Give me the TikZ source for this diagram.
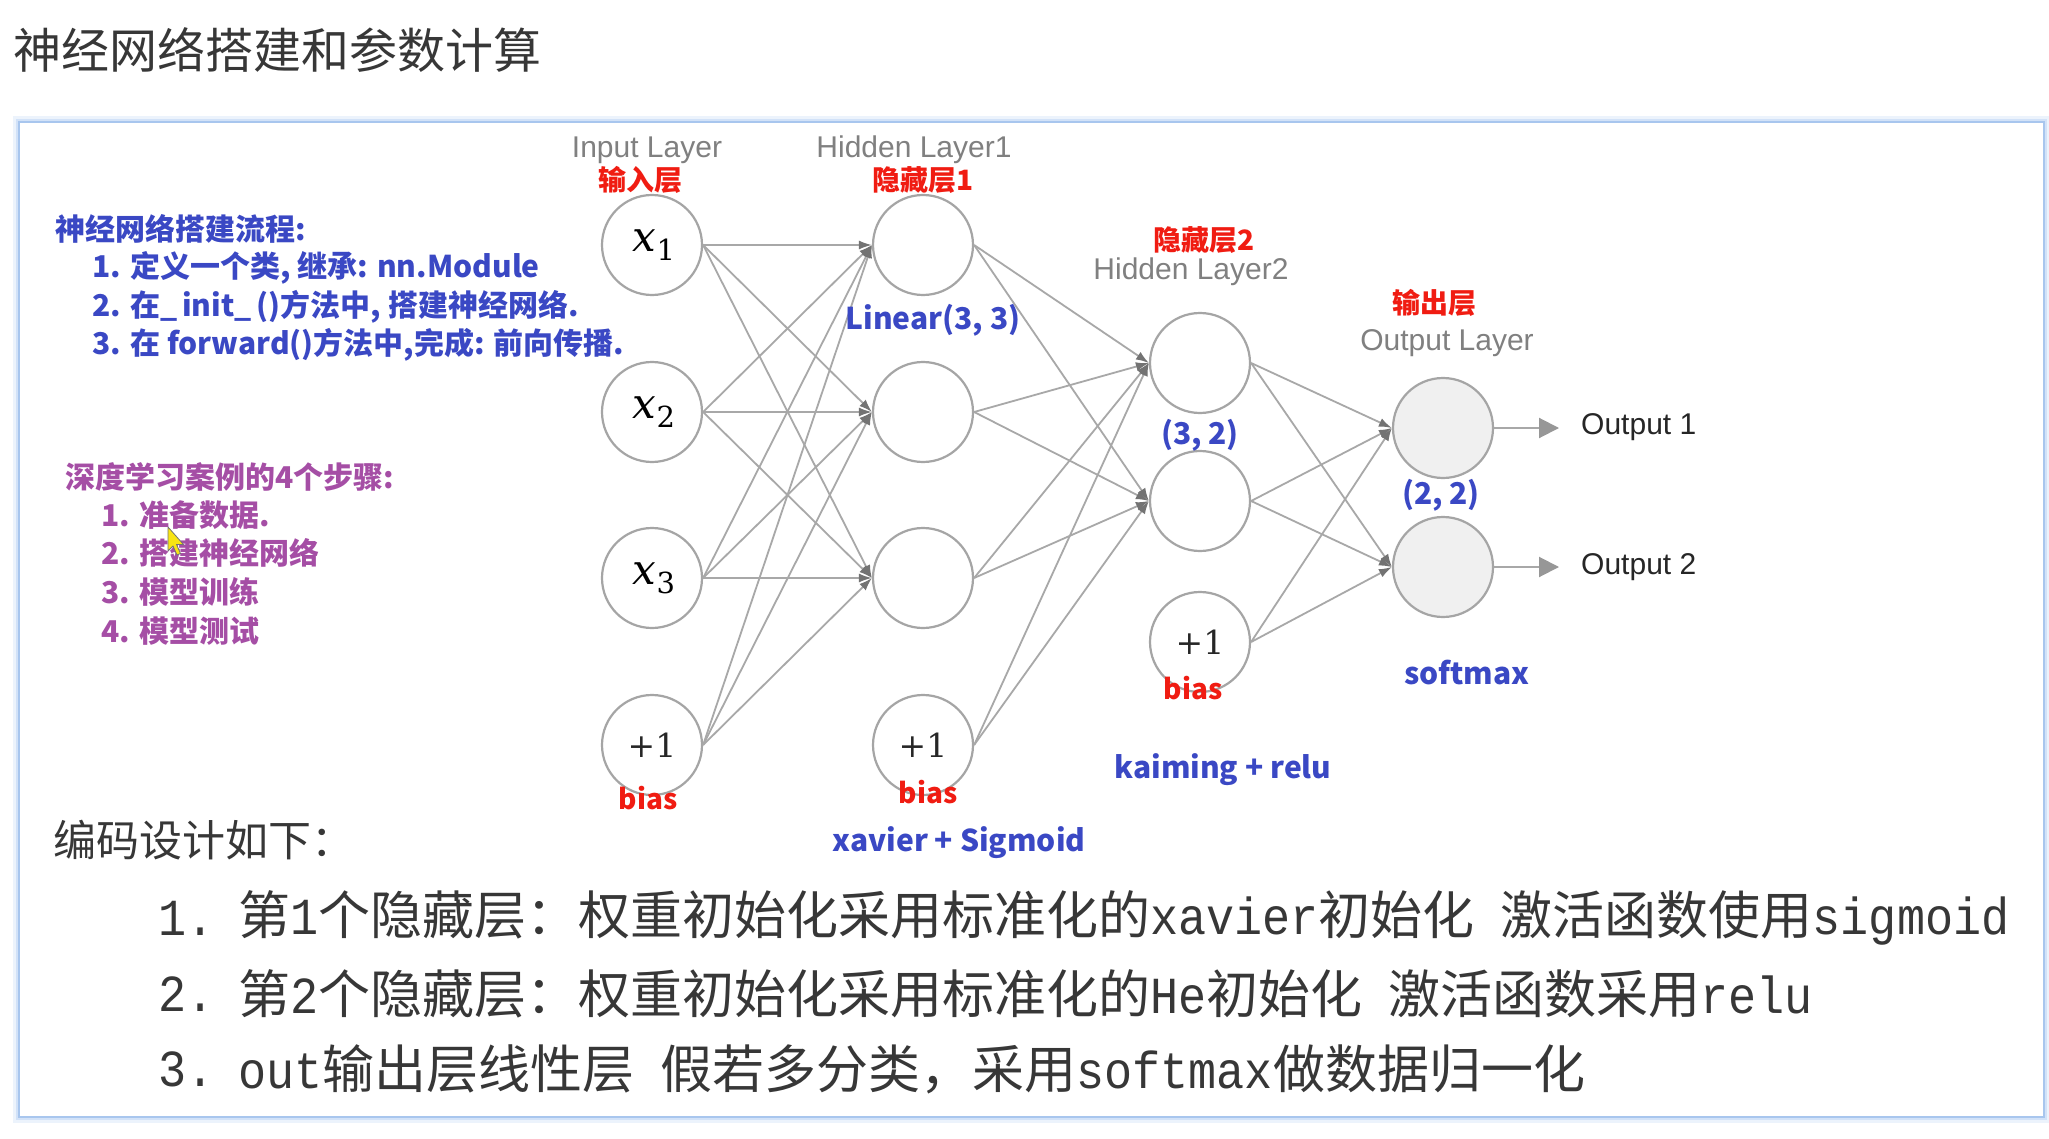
\documentclass[tikz,border=0pt]{standalone}
\usepackage{fontspec}
\usetikzlibrary{arrows.meta}
\newfontfamily\cjk{Noto Sans CJK SC}
\newfontfamily\arial{Liberation Sans}
\newfontfamily\dserif{DejaVu Serif}
\newfontfamily\monos[FakeStretch=0.9]{Liberation Mono}
\newcommand\fsz[1]{\fontsize{#1}{#1}\selectfont}
\definecolor{tblue}{RGB}{58,72,196}
\definecolor{tpurple}{RGB}{165,78,165}
\definecolor{tred}{RGB}{240,28,18}
\definecolor{lgray}{RGB}{128,128,128}
\definecolor{egray}{RGB}{168,168,168}
\definecolor{cgray}{RGB}{165,165,165}
\definecolor{tipgray}{RGB}{115,115,115}
\definecolor{txtdark}{RGB}{55,55,55}
\definecolor{glowa}{RGB}{236,243,252}
\definecolor{glowb}{RGB}{210,226,248}
\definecolor{boxedge}{RGB}{168,198,238}
\definecolor{cursory}{RGB}{248,228,20}
\tikzset{
  neuron/.style={circle, draw=cgray, line width=2.2pt, fill=white, minimum size=100pt, inner sep=0pt},
  outneuron/.style={neuron, fill=black!6},
  edge/.style={draw=egray, line width=1.8pt, -{Latex[length=13pt,width=9pt,color=tipgray]}},
  outarrow/.style={draw=egray, line width=2pt, -{Triangle[length=20pt,width=20pt,color=egray!90!black]}},
  bluebold/.style={text=tblue, font=\cjk\bfseries\fsz{30}, inner sep=0pt},
  bluehead/.style={text=tblue, font=\cjk\bfseries\fsz{30}, inner sep=0pt, anchor=west},
  purplehead/.style={text=tpurple, font=\cjk\bfseries\fsz{30}, inner sep=0pt, anchor=west},
  redlab/.style={text=tred, font=\cjk\bfseries\fsz{28}, inner sep=0pt},
  graylab/.style={text=lgray, font=\arial\fsz{30}, inner sep=0pt},
  outlab/.style={text=black!85, font=\arial\fsz{30}, inner sep=0pt, anchor=west},
  bottomtxt/.style={text=txtdark, font=\cjk\fsz{52}, inner sep=0pt, anchor=west},
  bottomnum/.style={text=txtdark, font=\monos\fsz{52}, inner sep=0pt, anchor=west},
  biasnode/.style={neuron, font=\dserif\fsz{33}, text=black!85},
}
\newcommand\xlab[1]{\hspace{4pt}{\dserif\fsz{42}\itshape x}\raisebox{-9pt}{\dserif\fsz{29}#1}}
\begin{document}
\begin{tikzpicture}[x=1pt,y=-1pt]
\useasboundingbox (0,0) rectangle (2049,1139);
\fill[white] (0,0) rectangle (2049,1139);
% frame
\draw[glowa, line width=12pt] (19,122) rectangle (2044,1117);
\draw[glowb, line width=6pt] (19,122) rectangle (2044,1117);
\draw[boxedge, line width=2pt, fill=white] (19,122) rectangle (2044,1117);
% title
\node[anchor=west, inner sep=0pt, text=txtdark, font=\cjk\fsz{48}] (title) at (13,50) {神经网络搭建和参数计算};
% left blue block
\node[bluehead] (bh) at (55,229) {神经网络搭建流程:};
\node[bluehead] (bl1) at (92,268) {1. 定义一个类, 继承: nn.Module};
\node[bluehead] (bl2) at (92,307) {2. 在\_\,init\_\,()方法中, 搭建神经网络.};
\node[bluehead] (bl3) at (92,345) {3. 在 forward()方法中,完成: 前向传播.};
% left purple block
\node[purplehead] (ph) at (65,477) {深度学习案例的4个步骤:};
\node[purplehead] (pl1) at (101,515) {1. 准备数据.};
\node[purplehead] (pl2) at (101,553) {2. 搭建神经网络};
\node[purplehead] (pl3) at (101,592) {3. 模型训练};
\node[purplehead] (pl4) at (101,631) {4. 模型测试};
% cursor
\draw[fill=cursory, draw=black!55, line width=0.8pt, line join=round] (168,527) -- ++(0,24) -- ++(5,-5) -- ++(4,9) -- ++(3.5,-1.5) -- ++(-4,-9) -- ++(7,0) -- cycle;
% neurons
\node[neuron] (i1) at (652,245) {\xlab{1}};
\node[neuron] (i2) at (652,412) {\xlab{2}};
\node[neuron] (i3) at (652,578) {\xlab{3}};
\node[biasnode] (ib) at (652,745) {\raisebox{-6pt}{+1}};
\node[neuron] (h1) at (923,245) {};
\node[neuron] (h2) at (923,412) {};
\node[neuron] (h3) at (923,578) {};
\node[biasnode] (hb) at (923,745) {\raisebox{-6pt}{+1}};
\node[neuron] (g1) at (1200,363) {};
\node[neuron] (g2) at (1200,501) {};
\node[biasnode] (gb) at (1200,642) {\raisebox{-6pt}{+1}};
\node[outneuron] (o1) at (1443,428) {};
\node[outneuron] (o2) at (1443,567) {};
% edges
\foreach \s in {i1,i2,i3,ib} \foreach \t in {h1,h2,h3} \draw[edge] (\s.east) -- (\t.west);
\foreach \s in {h1,h2,h3,hb} \foreach \t in {g1,g2} \draw[edge] (\s.east) -- (\t.west);
\foreach \s in {g1,g2,gb} \foreach \t in {o1,o2} \draw[edge] (\s.east) -- (\t.west);
% outputs
\node[outlab] (t1) at (1581,427) {Output 1};
\node[outlab] (t2) at (1581,567) {Output 2};
\coordinate (a1) at (1559,428);
\coordinate (a2) at (1559,567);
\draw[outarrow] (o1.east) -- (a1);
\draw[outarrow] (o2.east) -- (a2);
% layer labels
\node[graylab] (li) at (647,150) {Input Layer};
\node[redlab] (ri) at (640,180) {输入层};
\node[graylab] (lh1) at (914,150) {Hidden Layer1};
\node[redlab] (rh1) at (923,180) {隐藏层1};
\node[redlab] (rh2) at (1204,240) {隐藏层2};
\node[graylab] (lh2) at (1191,272) {Hidden Layer2};
\node[redlab] (ro) at (1434,303) {输出层};
\node[graylab] (lo) at (1447,343) {Output Layer};
% bias labels
\node[redlab] (bi) at (648,798) {bias};
\node[redlab] (bh1) at (928,792) {bias};
\node[redlab] (bh2) at (1193,688) {bias};
% blue annotations
\node[bluebold] (lin) at (933,320) {Linear(3, 3)};
\node[bluebold] (s32) at (1200,435) {(3, 2)};
\node[bluebold] (s22) at (1441,495) {(2, 2)};
\node[bluebold] (smx) at (1467,673) {softmax};
\node[bluebold] (kai) at (1223,770) {kaiming + relu};
\node[bluebold] (xav) at (959,843) {xavier + Sigmoid};
% bottom text
\node[anchor=west, inner sep=0pt, text=txtdark, font=\cjk\fsz{43}] (enc) at (53,840) {编码设计如下：};
\node[bottomnum] (n1) at (158,918) {1.};
\node[bottomtxt] (b1) at (238,918) {第{\monos 1}个隐藏层：权重初始化采用标准化的{\monos xavier}初始化\hspace{26pt}激活函数使用{\monos sigmoid}};
\node[bottomnum] (n2) at (158,994) {2.};
\node[bottomtxt] (b2) at (238,994) {第{\monos 2}个隐藏层：权重初始化采用标准化的{\monos He}初始化\hspace{26pt}激活函数采用{\monos relu}};
\node[bottomnum] (n3) at (158,1069) {3.};
\node[bottomtxt] (b3) at (238,1069) {{\monos out}输出层线性层\hspace{26pt}假若多分类，采用{\monos softmax}做数据归一化};
\end{tikzpicture}
\end{document}
